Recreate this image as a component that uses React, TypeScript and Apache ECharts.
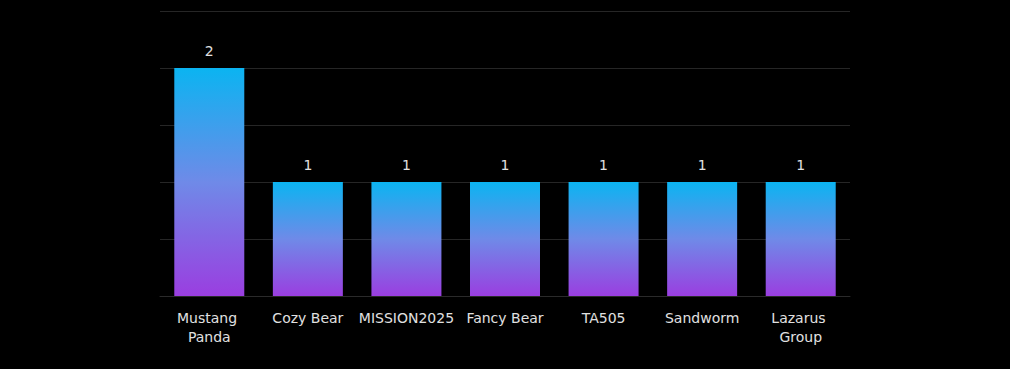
import React, { useEffect, useRef } from "react";
import * as echarts from "echarts";

const categories = ["Mustang Panda", "Cozy Bear", "MISSION2025", "Fancy Bear", "TA505", "Sandworm", "Lazarus Group"];
const counts = [2, 1, 1, 1, 1, 1, 1];

export default function App() {
  const ref = useRef<HTMLDivElement>(null);
  useEffect(() => {
    document.body.style.margin = "0";
    document.body.style.background = "#000";
    const chart = echarts.init(ref.current!, null, { renderer: "svg" });
    chart.setOption({
      animation: false,
      backgroundColor: "#000",
      textStyle: { fontFamily: "DejaVu Sans" },
      grid: { left: 160, right: 160, top: 11, height: 285 },
      xAxis: {
        type: "category",
        data: categories,
        axisLine: { lineStyle: { color: "#2a2a2a" } },
        axisTick: { show: false },
        axisLabel: {
          interval: 0,
          color: "#e0e0e0",
          fontSize: 14,
          margin: 12,
          lineHeight: 19,
          width: 96,
          overflow: "break",
        },
      },
      yAxis: {
        type: "value",
        min: 0,
        max: 2.5,
        interval: 0.5,
        axisLabel: { show: false },
        axisLine: { show: false },
        axisTick: { show: false },
        splitLine: { lineStyle: { color: "#262626", width: 1 } },
      },
      series: [
        {
          type: "bar",
          data: counts,
          barWidth: 70,
          itemStyle: {
            color: new echarts.graphic.LinearGradient(0, 0, 0, 1, [
              { offset: 0, color: "#0bb4f1" },
              { offset: 0.5, color: "#6f8ae8" },
              { offset: 1, color: "#9a3ee0" },
            ]),
          },
          label: {
            show: true,
            position: "top",
            color: "#e0e0e0",
            fontSize: 14,
            distance: 10,
          },
        },
      ],
    });
    return () => chart.dispose();
  }, []);
  return <div ref={ref} style={{ width: 1010, height: 369, background: "#000" }} />;
}
